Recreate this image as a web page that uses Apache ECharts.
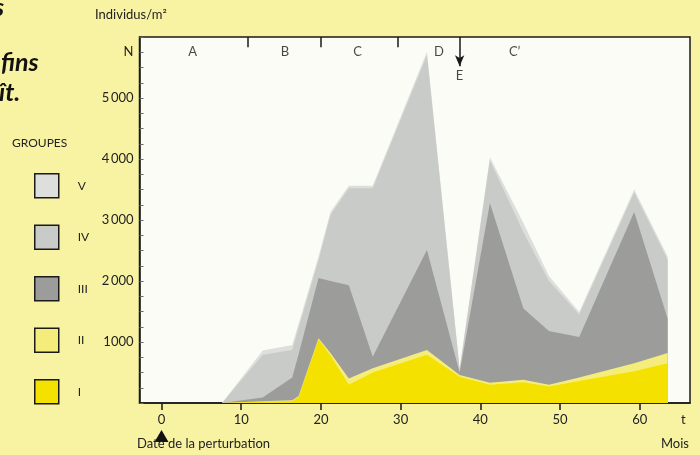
<!DOCTYPE html>
<html>
<head>
<meta charset="utf-8">
<script src="https://cdn.jsdelivr.net/npm/echarts@6/dist/echarts.min.js"></script>
<style>
html,body{margin:0;padding:0;background:#f8f3a2;}
#c{width:700px;height:455px;}
</style>
</head>
<body>
<div id="c"></div>
<script>
// Time (months) at which the layers were read
var months = [7.6, 12.7, 16.4, 17.2, 19.7, 21.2, 23.5, 26.5, 33.3, 37.4, 41.2, 45.4, 48.6, 52.4, 59.3, 63.5];
// Densities of each group (individus / m²)
var groupI   = [0, 20, 30, 100, 1040, 780, 300, 500, 790, 430, 300, 340, 270, 360, 520, 650];
var groupII  = [0, 10, 15, 15, 20, 40, 100, 70, 80, 30, 30, 40, 30, 60, 130, 170];
var groupIII = [0, 60, 375, 685, 990, 1180, 1530, 190, 1640, 40, 2950, 1170, 880, 660, 2480, 560];
var groupIV  = [0, 700, 450, 430, 290, 1080, 1590, 2760, 3190, 50, 700, 1250, 820, 370, 320, 970];
var groupV   = [0, 70, 80, 70, 60, 50, 40, 40, 60, 20, 50, 150, 80, 40, 50, 50];

var groupNames = ['I', 'II', 'III', 'IV', 'V'];
var xTicks = [0, 10, 20, 30, 40, 50, 60];
var yLabels = [1000, 2000, 3000, 4000, 5000, 5750];
var yLabelText = {1000: '1000', 2000: '2\u2009000', 3000: '3\u2009000', 4000: '4\u2009000', 5000: '5\u2009000', 5750: 'N'};

// Phases of the succession
var periodLabels = ['A', 'B', 'C', 'D', 'C\u2019'];
var periodCenters = [3.9, 15.5, 24.6, 34.8, 44.3];
var periodBounds = [10.8, 20, 29.7];
var eventE = 37.4;

var colors = {I: '#f5e100', II: '#f4ed7c', III: '#9c9d9b', IV: '#c9cbc8', V: '#dcdfdb'};
var groupData = {I: groupI, II: groupII, III: groupIII, IV: groupIV, V: groupV};

var FONT = 'Lato';
var chart = echarts.init(document.getElementById('c'), null, {renderer: 'canvas'});

// cumulative (stacked) totals, built from the group arrays
var cumul = {};
var running = months.map(function () { return 0; });
groupNames.forEach(function (g) {
  running = running.map(function (s, i) { return s + groupData[g][i]; });
  cumul[g] = running.slice();
});

// draw from the top layer (V) down to the bottom layer (I), each filled to the axis
var series = groupNames.slice().reverse().map(function (g, k) {
  return {
    name: g,
    type: 'line',
    symbol: 'none',
    color: colors[g],
    lineStyle: {width: 0, color: colors[g]},
    itemStyle: {color: colors[g]},
    areaStyle: {color: colors[g], opacity: 1, origin: 'start'},
    data: months.map(function (t, i) { return [t, cumul[g][i]]; }),
    z: 2 + k
  };
});

var labelPts = periodCenters.map(function (t, i) { return [t, 5754, periodLabels[i]]; });
labelPts.push([eventE, 5370, 'E']);

var markLines = periodBounds.map(function (t) {
  return [{coord: [t, 6000]}, {coord: [t, 5830]}];
});
markLines.push([{coord: [eventE, 6000]}, {coord: [eventE, 5520], symbol: 'arrow', symbolSize: [7, 11]}]);

series.push({
  name: 'periodes',
  type: 'scatter',
  symbolSize: 0,
  silent: true,
  z: 20,
  data: labelPts,
  label: {
    show: true,
    position: 'inside',
    formatter: function (p) { return p.value[2]; },
    color: '#1a1a1a',
    fontFamily: FONT,
    fontSize: 13
  },
  markLine: {
    silent: true,
    symbol: ['none', 'none'],
    label: {show: false},
    lineStyle: {color: '#1a1a1a', width: 1.5, type: 'solid'},
    emphasis: {disabled: true},
    data: markLines
  }
});

chart.setOption({
  animation: false,
  backgroundColor: '#f8f3a2',
  grid: {
    left: 139.5, right: 10, top: 37, bottom: 52,
    show: true, backgroundColor: '#fbfcf5', borderColor: '#1a1a1a', borderWidth: 1.5
  },
  legend: {
    data: ['V', 'IV', 'III', 'II', 'I'],
    orient: 'vertical',
    left: 29, top: 168,
    itemWidth: 24, itemHeight: 24, itemGap: 26,
    icon: 'rect',
    selectedMode: false,
    itemStyle: {borderColor: '#1a1a1a', borderWidth: 1.5},
    textStyle: {fontFamily: FONT, fontSize: 12, color: '#222', padding: [16, 0, 0, 14]}
  },
  xAxis: {
    type: 'value',
    min: -2.76, max: 66.3,
    splitLine: {show: false},
    axisLine: {show: true, onZero: false, lineStyle: {color: '#1a1a1a', width: 1.5}},
    axisTick: {show: true, customValues: xTicks, length: 7, inside: false, lineStyle: {color: '#1a1a1a', width: 1.5}},
    axisLabel: {customValues: xTicks, margin: 10, fontFamily: FONT, fontSize: 13, color: '#222'}
  },
  yAxis: {
    type: 'value',
    min: 0, max: 6000, interval: 250,
    splitLine: {show: false},
    axisLine: {show: true, onZero: false, lineStyle: {color: '#1a1a1a', width: 1.5}},
    axisTick: {show: true, inside: true, length: 4, lineStyle: {color: '#666', width: 1}},
    axisLabel: {
      customValues: yLabels, margin: 6, fontFamily: FONT, fontSize: 13, color: '#222',
      formatter: function (v) { return yLabelText[v] || ''; }
    }
  },
  series: series
});

var x0 = chart.convertToPixel({xAxisIndex: 0}, 0);
var yBase = chart.convertToPixel({yAxisIndex: 0}, 0);

chart.setOption({
  graphic: [
    {type: 'text', left: -6, top: -5, style: {text: 's', font: 'italic bold 25px ' + FONT, fill: '#111'}},
    {type: 'text', left: 1, top: 50, style: {text: 'fins', font: 'italic bold 25px ' + FONT, fill: '#111'}},
    {type: 'text', left: -1, top: 80, style: {text: '\u00eet.', font: 'italic bold 25px ' + FONT, fill: '#111'}},
    {type: 'text', left: 95, top: 8, style: {text: 'Individus/m\u00b2', font: '13px ' + FONT, fill: '#222'}},
    {type: 'text', left: 12, top: 137, style: {text: 'GROUPES', font: '12px ' + FONT, fill: '#222'}},
    {type: 'polygon', shape: {points: [[x0 - 7, yBase + 39], [x0 + 7, yBase + 39], [x0, yBase + 27]]}, style: {fill: '#111'}},
    {type: 'text', left: 137, top: 437, style: {text: 'Date de la perturbation', font: '13px ' + FONT, fill: '#222'}},
    {type: 'text', left: 661, top: 437, style: {text: 'Mois', font: '13px ' + FONT, fill: '#222'}},
    {type: 'text', left: 681, top: 413, style: {text: 't', font: '13px ' + FONT, fill: '#222'}}
  ]
});
</script>
</body>
</html>
